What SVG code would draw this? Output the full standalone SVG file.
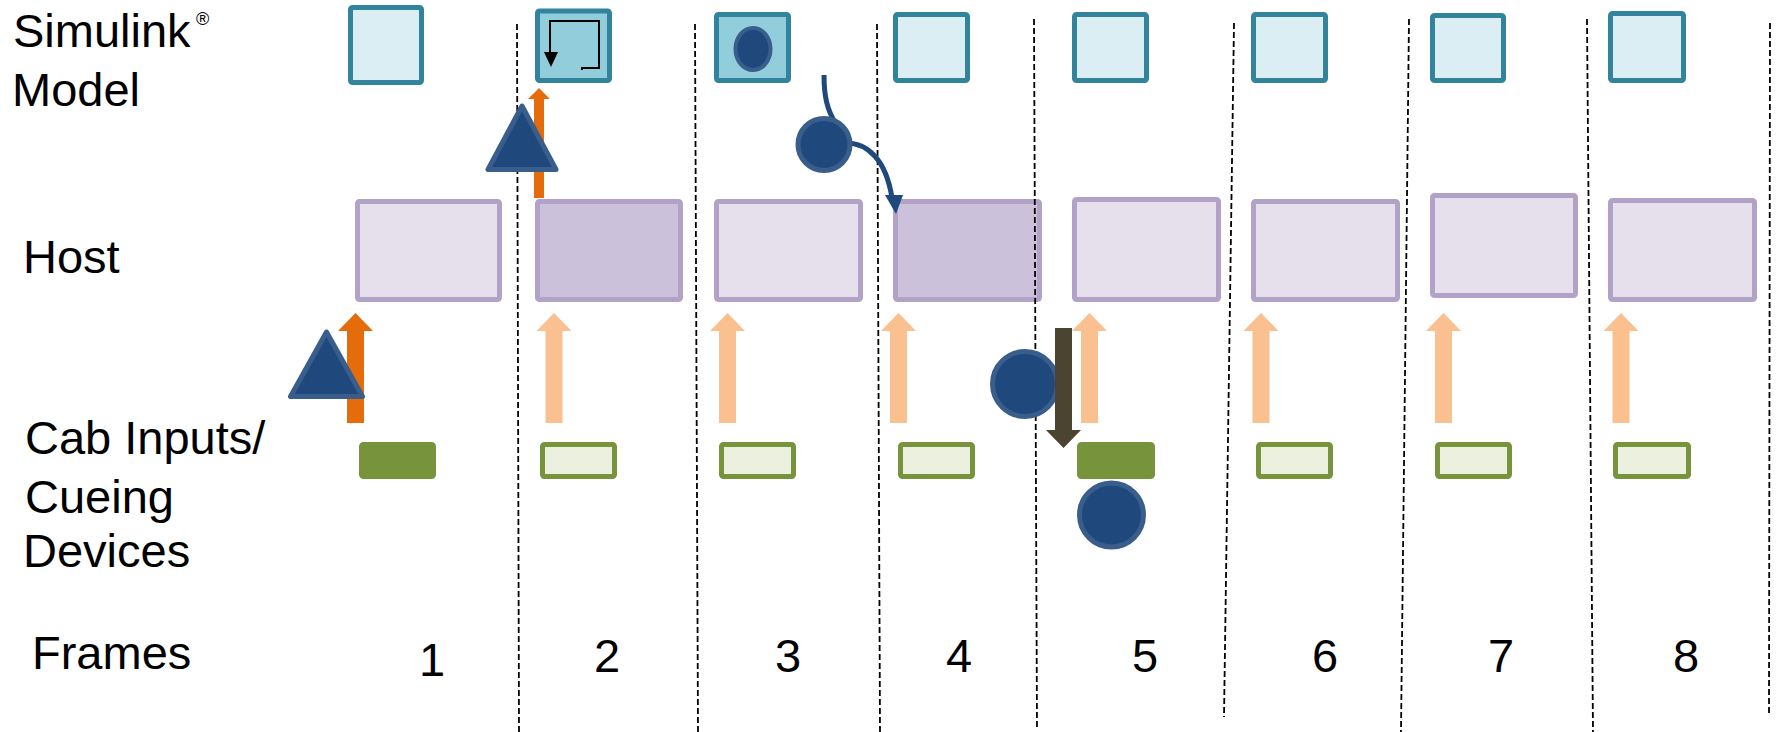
<svg xmlns="http://www.w3.org/2000/svg" xmlns:xlink="http://www.w3.org/1999/xlink" width="1777" height="732" viewBox="0 0 1777 732">
  <style>
    .label { font-family: "Liberation Sans", Arial, sans-serif; font-size: 47px; fill: #000; }
    .num { font-family: "Liberation Sans", Arial, sans-serif; font-size: 47px; fill: #000; text-anchor: middle; }
    .model { stroke: #31849b; stroke-width: 5; fill: #dbeef4; }
    .model.active { fill: #92cddc; }
    .host { stroke: #b2a2c7; stroke-width: 5; fill: #e5e0ec; }
    .host.active { fill: #ccc1da; }
    .cab { stroke: #77933c; stroke-width: 5; fill: #ebf1de; }
    .cab.active { fill: #77933c; }
    .token { fill: #1f497d; stroke: #3a5e8c; stroke-width: 5; stroke-linejoin: round; }
    .frame-sep { stroke: #000; stroke-width: 1.8; stroke-dasharray: 6 3; fill: none; }
    .up-light { fill: #fac090; }
    .up-strong { fill: #e46c0a; }
  </style>
  <defs>
    <!-- upward block arrow, tip at origin -->
    <polygon id="upArrow" points="0,0 17.5,18 8.5,18 8.5,110 -8.5,110 -8.5,18 -17.5,18"/>
  </defs>

  <rect width="1777" height="732" fill="#fff"/>

  <!-- row labels -->
  <g id="labels">
    <text class="label" x="13" y="47">Simulink</text>
    <text x="196" y="25" font-family="Liberation Sans, Arial, sans-serif" font-size="18">®</text>
    <text class="label" x="12" y="106">Model</text>
    <text class="label" x="23" y="273">Host</text>
    <text class="label" x="25" y="454">Cab Inputs/</text>
    <text class="label" x="25" y="513">Cueing</text>
    <text class="label" x="23" y="567">Devices</text>
    <text class="label" x="32" y="669">Frames</text>
  </g>

  <!-- Simulink model blocks -->
  <g id="model-1"><rect class="model" x="350.5" y="7.5" width="71" height="75" rx="2"/></g>
  <g id="model-2">
    <rect class="model active" x="537.5" y="11" width="72" height="69.5" rx="2"/>
    <path d="M582,70 L582,68 L599,68 L599,21 L550,21 L550,52" fill="none" stroke="#000" stroke-width="2"/>
    <polygon points="544,52 558,52 551,67" fill="#000"/>
  </g>
  <g id="model-3">
    <rect class="model active" x="716.5" y="14.5" width="72" height="66" rx="2"/>
    <ellipse cx="753" cy="49" rx="17.5" ry="21" fill="#1f497d" stroke="#3a5e8c" stroke-width="4"/>
  </g>
  <g id="model-4"><rect class="model" x="895.5" y="14.5" width="72" height="66" rx="2"/></g>
  <g id="model-5"><rect class="model" x="1074.5" y="14.5" width="72" height="66" rx="2"/></g>
  <g id="model-6"><rect class="model" x="1253.5" y="14.5" width="72" height="66" rx="2"/></g>
  <g id="model-7"><rect class="model" x="1432.5" y="15.5" width="71" height="65" rx="2"/></g>
  <g id="model-8"><rect class="model" x="1610.5" y="13.5" width="73" height="67" rx="2"/></g>

  <!-- Host blocks -->
  <g id="host-1"><rect class="host" x="357.5" y="201.5" width="142" height="98" rx="2"/></g>
  <g id="host-2"><rect class="host active" x="537.5" y="201.5" width="143" height="98" rx="2"/></g>
  <g id="host-3"><rect class="host" x="716.5" y="201.5" width="144" height="98" rx="2"/></g>
  <g id="host-4"><rect class="host active" x="895.5" y="201.5" width="144" height="98" rx="2"/></g>
  <g id="host-5"><rect class="host" x="1074.5" y="199.5" width="144" height="100" rx="2"/></g>
  <g id="host-6"><rect class="host" x="1253.5" y="201.5" width="144" height="98" rx="2"/></g>
  <g id="host-7"><rect class="host" x="1432.5" y="195.5" width="143" height="100" rx="2"/></g>
  <g id="host-8"><rect class="host" x="1610.5" y="200.5" width="144" height="99" rx="2"/></g>

  <!-- Cab input / cueing device blocks -->
  <g id="cab-1"><rect class="cab active" x="361.5" y="444.5" width="72" height="32" rx="2"/></g>
  <g id="cab-2"><rect class="cab" x="542.5" y="444.5" width="72" height="32" rx="2"/></g>
  <g id="cab-3"><rect class="cab" x="721.5" y="444.5" width="72" height="32" rx="2"/></g>
  <g id="cab-4"><rect class="cab" x="900.5" y="444.5" width="72" height="32" rx="2"/></g>
  <g id="cab-5"><rect class="cab active" x="1079.5" y="444.5" width="73" height="32" rx="2"/></g>
  <g id="cab-6"><rect class="cab" x="1258.5" y="444.5" width="72" height="32" rx="2"/></g>
  <g id="cab-7"><rect class="cab" x="1437.5" y="444.5" width="72" height="32" rx="2"/></g>
  <g id="cab-8"><rect class="cab" x="1615.5" y="444.5" width="73" height="32" rx="2"/></g>

  <!-- frame separators -->
  <g id="frame-separators">
    <line class="frame-sep" x1="517" y1="24" x2="519" y2="732"/>
    <line class="frame-sep" x1="695" y1="24" x2="698" y2="732"/>
    <line class="frame-sep" x1="877" y1="24" x2="880" y2="732"/>
    <line class="frame-sep" x1="1034" y1="19" x2="1037" y2="728"/>
    <line class="frame-sep" x1="1234" y1="23" x2="1224" y2="717"/>
    <line class="frame-sep" x1="1409" y1="19" x2="1401" y2="732"/>
    <line class="frame-sep" x1="1587" y1="19" x2="1593" y2="732"/>
    <line class="frame-sep" x1="1770" y1="23" x2="1769" y2="715"/>
  </g>

  <!-- connectors -->
  <g id="connectors">
    <use xlink:href="#upArrow" class="up-strong" transform="translate(355.5,313)"/>
    <use xlink:href="#upArrow" class="up-light" transform="translate(554,313)"/>
    <use xlink:href="#upArrow" class="up-light" transform="translate(727.5,313)"/>
    <use xlink:href="#upArrow" class="up-light" transform="translate(898.5,313)"/>
    <use xlink:href="#upArrow" class="up-light" transform="translate(1089.5,313)"/>
    <use xlink:href="#upArrow" class="up-light" transform="translate(1261,313)"/>
    <use xlink:href="#upArrow" class="up-light" transform="translate(1443.5,313)"/>
    <use xlink:href="#upArrow" class="up-light" transform="translate(1621,313)"/>
    <!-- host to model, frame 2 -->
    <polygon class="up-strong" points="539,88 550,99 544,99 544,198 534,198 534,99 528,99"/>
    <!-- curved transfer from model to host, frame 3 to 4 -->
    <path d="M824,75 C824,96 827,110 836,124" fill="none" stroke="#1f497d" stroke-width="5"/>
    <path d="M846,143 C868,143 886,160 892,198" fill="none" stroke="#1f497d" stroke-width="5"/>
    <polygon points="885,195 903,195 896,214" fill="#1f497d"/>
  </g>

  <!-- tokens -->
  <g id="token-tri-1"><polygon class="token" points="326.5,332 290.5,396.5 362.5,396.5"/></g>
  <g id="token-tri-2"><polygon class="token" points="522,106 488,169.5 556,169.5"/></g>
  <g id="token-circle-3"><circle class="token" cx="824" cy="144.5" r="26" stroke-width="4"/></g>
  <g id="token-circle-4"><circle class="token" cx="1025" cy="384" r="32.5"/></g>
  <g id="output-arrow-5"><polygon points="1055,328 1072,328 1072,430 1081,430 1063.5,448 1046,430 1055,430" fill="#4a4430"/></g>
  <g id="token-circle-5"><circle class="token" cx="1111.5" cy="515" r="32"/></g>

  <!-- frame numbers -->
  <g id="frame-numbers">
    <text class="num" x="432" y="676">1</text>
    <text class="num" x="607" y="672">2</text>
    <text class="num" x="788" y="672">3</text>
    <text class="num" x="959" y="672">4</text>
    <text class="num" x="1145" y="672">5</text>
    <text class="num" x="1325" y="672">6</text>
    <text class="num" x="1501" y="672">7</text>
    <text class="num" x="1686" y="672">8</text>
  </g>
</svg>
